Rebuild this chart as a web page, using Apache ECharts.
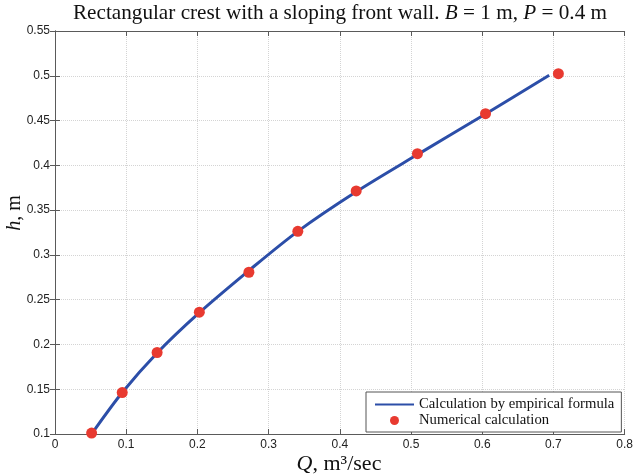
<!DOCTYPE html>
<html>
<head>
<meta charset="utf-8">
<script src="https://cdn.jsdelivr.net/npm/echarts@6/dist/echarts.min.js"></script>
<style>
html,body{margin:0;padding:0;background:#fff;}
#chart{width:636px;height:476px;}
</style>
</head>
<body>
<div id="chart"></div>
<script>
// Numerical calculation (red dots)
var qNum = [0.0514, 0.0944, 0.1434, 0.2027, 0.2723, 0.341, 0.423, 0.509, 0.6046, 0.7069];
var hNum = [0.101, 0.1463, 0.191, 0.236, 0.2806, 0.3263, 0.3714, 0.413, 0.4577, 0.5023];
// Empirical formula curve (blue line)
var qFit = [0.0514, 0.0944, 0.1434, 0.2027, 0.2723, 0.341, 0.423, 0.509, 0.6046, 0.694];
var hFit = [0.1, 0.1463, 0.1905, 0.2355, 0.2825, 0.3263, 0.3705, 0.412, 0.4573, 0.5005];
// Tick labels
var xTicks = ['0', '0.1', '0.2', '0.3', '0.4', '0.5', '0.6', '0.7', '0.8'];
var yTicks = ['0.1', '0.15', '0.2', '0.25', '0.3', '0.35', '0.4', '0.45', '0.5', '0.55'];
var seriesNames = ['Calculation by empirical formula', 'Numerical calculation'];

var chart = echarts.init(document.getElementById('chart'), null, {renderer: 'canvas'});
var SERIF = '"Liberation Serif", "DejaVu Serif", serif';
var SANS = '"Liberation Sans", Arial, sans-serif';
var AXC = '#5a5a5a';

function zip(a, b) { return a.map(function (v, i) { return [v, b[i]]; }); }

var tickStyle = {show: true, inside: true, length: 5, lineStyle: {color: AXC, width: 1}};
var option = {
  backgroundColor: '#fff',
  animation: false,
  grid: {left: 55, right: 10, top: 31, bottom: 42, containLabel: false},
  xAxis: [{
    type: 'value', min: 0, max: 0.8, interval: 0.1, position: 'bottom',
    axisLine: {show: true, lineStyle: {color: AXC, width: 1}},
    axisTick: tickStyle,
    axisLabel: {margin: 5, fontFamily: SANS, fontSize: 12, color: '#222',
      formatter: function (v) { return xTicks[Math.round(v * 10)]; }},
    splitLine: {show: true, lineStyle: {color: '#d4d4d4', type: 'dotted', width: 1}}
  }, {
    type: 'value', min: 0, max: 0.8, interval: 0.1, position: 'top',
    axisLine: {show: true, lineStyle: {color: AXC, width: 1}},
    axisTick: tickStyle, axisLabel: {show: false}, splitLine: {show: false}
  }],
  yAxis: [{
    type: 'value', min: 0.1, max: 0.55, interval: 0.05, position: 'left',
    axisLine: {show: true, lineStyle: {color: AXC, width: 1}},
    axisTick: tickStyle,
    axisLabel: {margin: 5, fontFamily: SANS, fontSize: 12, color: '#222',
      formatter: function (v) { return yTicks[Math.round((v - 0.1) / 0.05)]; }},
    splitLine: {show: true, lineStyle: {color: '#d4d4d4', type: 'dotted', width: 1}}
  }, {
    type: 'value', min: 0.1, max: 0.55, interval: 0.05, position: 'right',
    axisLine: {show: true, lineStyle: {color: AXC, width: 1}},
    axisTick: tickStyle, axisLabel: {show: false}, splitLine: {show: false}
  }],
  legend: {
    orient: 'vertical', left: 366, top: 392,
    backgroundColor: '#fff', borderColor: '#555', borderWidth: 1, borderRadius: 0,
    padding: [5, 7, 4, 8], itemGap: 1, itemWidth: 39, itemHeight: 9,
    textStyle: {fontFamily: SERIF, fontSize: 14.7, color: '#111', lineHeight: 14},
    data: [
      {name: seriesNames[0], itemStyle: {opacity: 0, color: 'rgba(0,0,0,0)', borderWidth: 0}},
      {name: seriesNames[1], icon: 'circle'}
    ]
  },
  series: [{
    name: seriesNames[0], type: 'line', data: zip(qFit, hFit),
    smooth: 0.3, symbol: 'none', showSymbol: false,
    lineStyle: {color: '#2c4ea8', width: 3}, itemStyle: {color: '#2c4ea8'}, z: 2
  }, {
    name: seriesNames[1], type: 'scatter', data: zip(qNum, hNum),
    symbol: 'circle', symbolSize: 11,
    itemStyle: {color: '#e83a30', opacity: 1}, z: 3
  }],
  graphic: [{
    type: 'text', x: 340, y: 13,
    style: {
      text: 'Rectangular crest with a sloping front wall. {i|B} = 1 m, {i|P} = 0.4 m',
      fontFamily: SERIF, fontSize: 21.2, fill: '#111', align: 'center', verticalAlign: 'middle',
      rich: {i: {fontFamily: SERIF, fontSize: 21.2, fontStyle: 'italic', fill: '#111'}}
    }
  }, {
    type: 'text', x: 339, y: 464,
    style: {
      text: '{i|Q}, m³/sec',
      fontFamily: SERIF, fontSize: 22, fill: '#111', align: 'center', verticalAlign: 'middle',
      rich: {i: {fontFamily: SERIF, fontSize: 22, fontStyle: 'italic', fill: '#111'}}
    }
  }, {
    type: 'text', x: 15, y: 213, rotation: Math.PI / 2,
    style: {
      text: '{i|h}, m',
      fontFamily: SERIF, fontSize: 20, fill: '#111', align: 'center', verticalAlign: 'middle',
      rich: {i: {fontFamily: SERIF, fontSize: 20, fontStyle: 'italic', fill: '#111'}}
    }
  }]
};
chart.setOption(option);
</script>
</body>
</html>
